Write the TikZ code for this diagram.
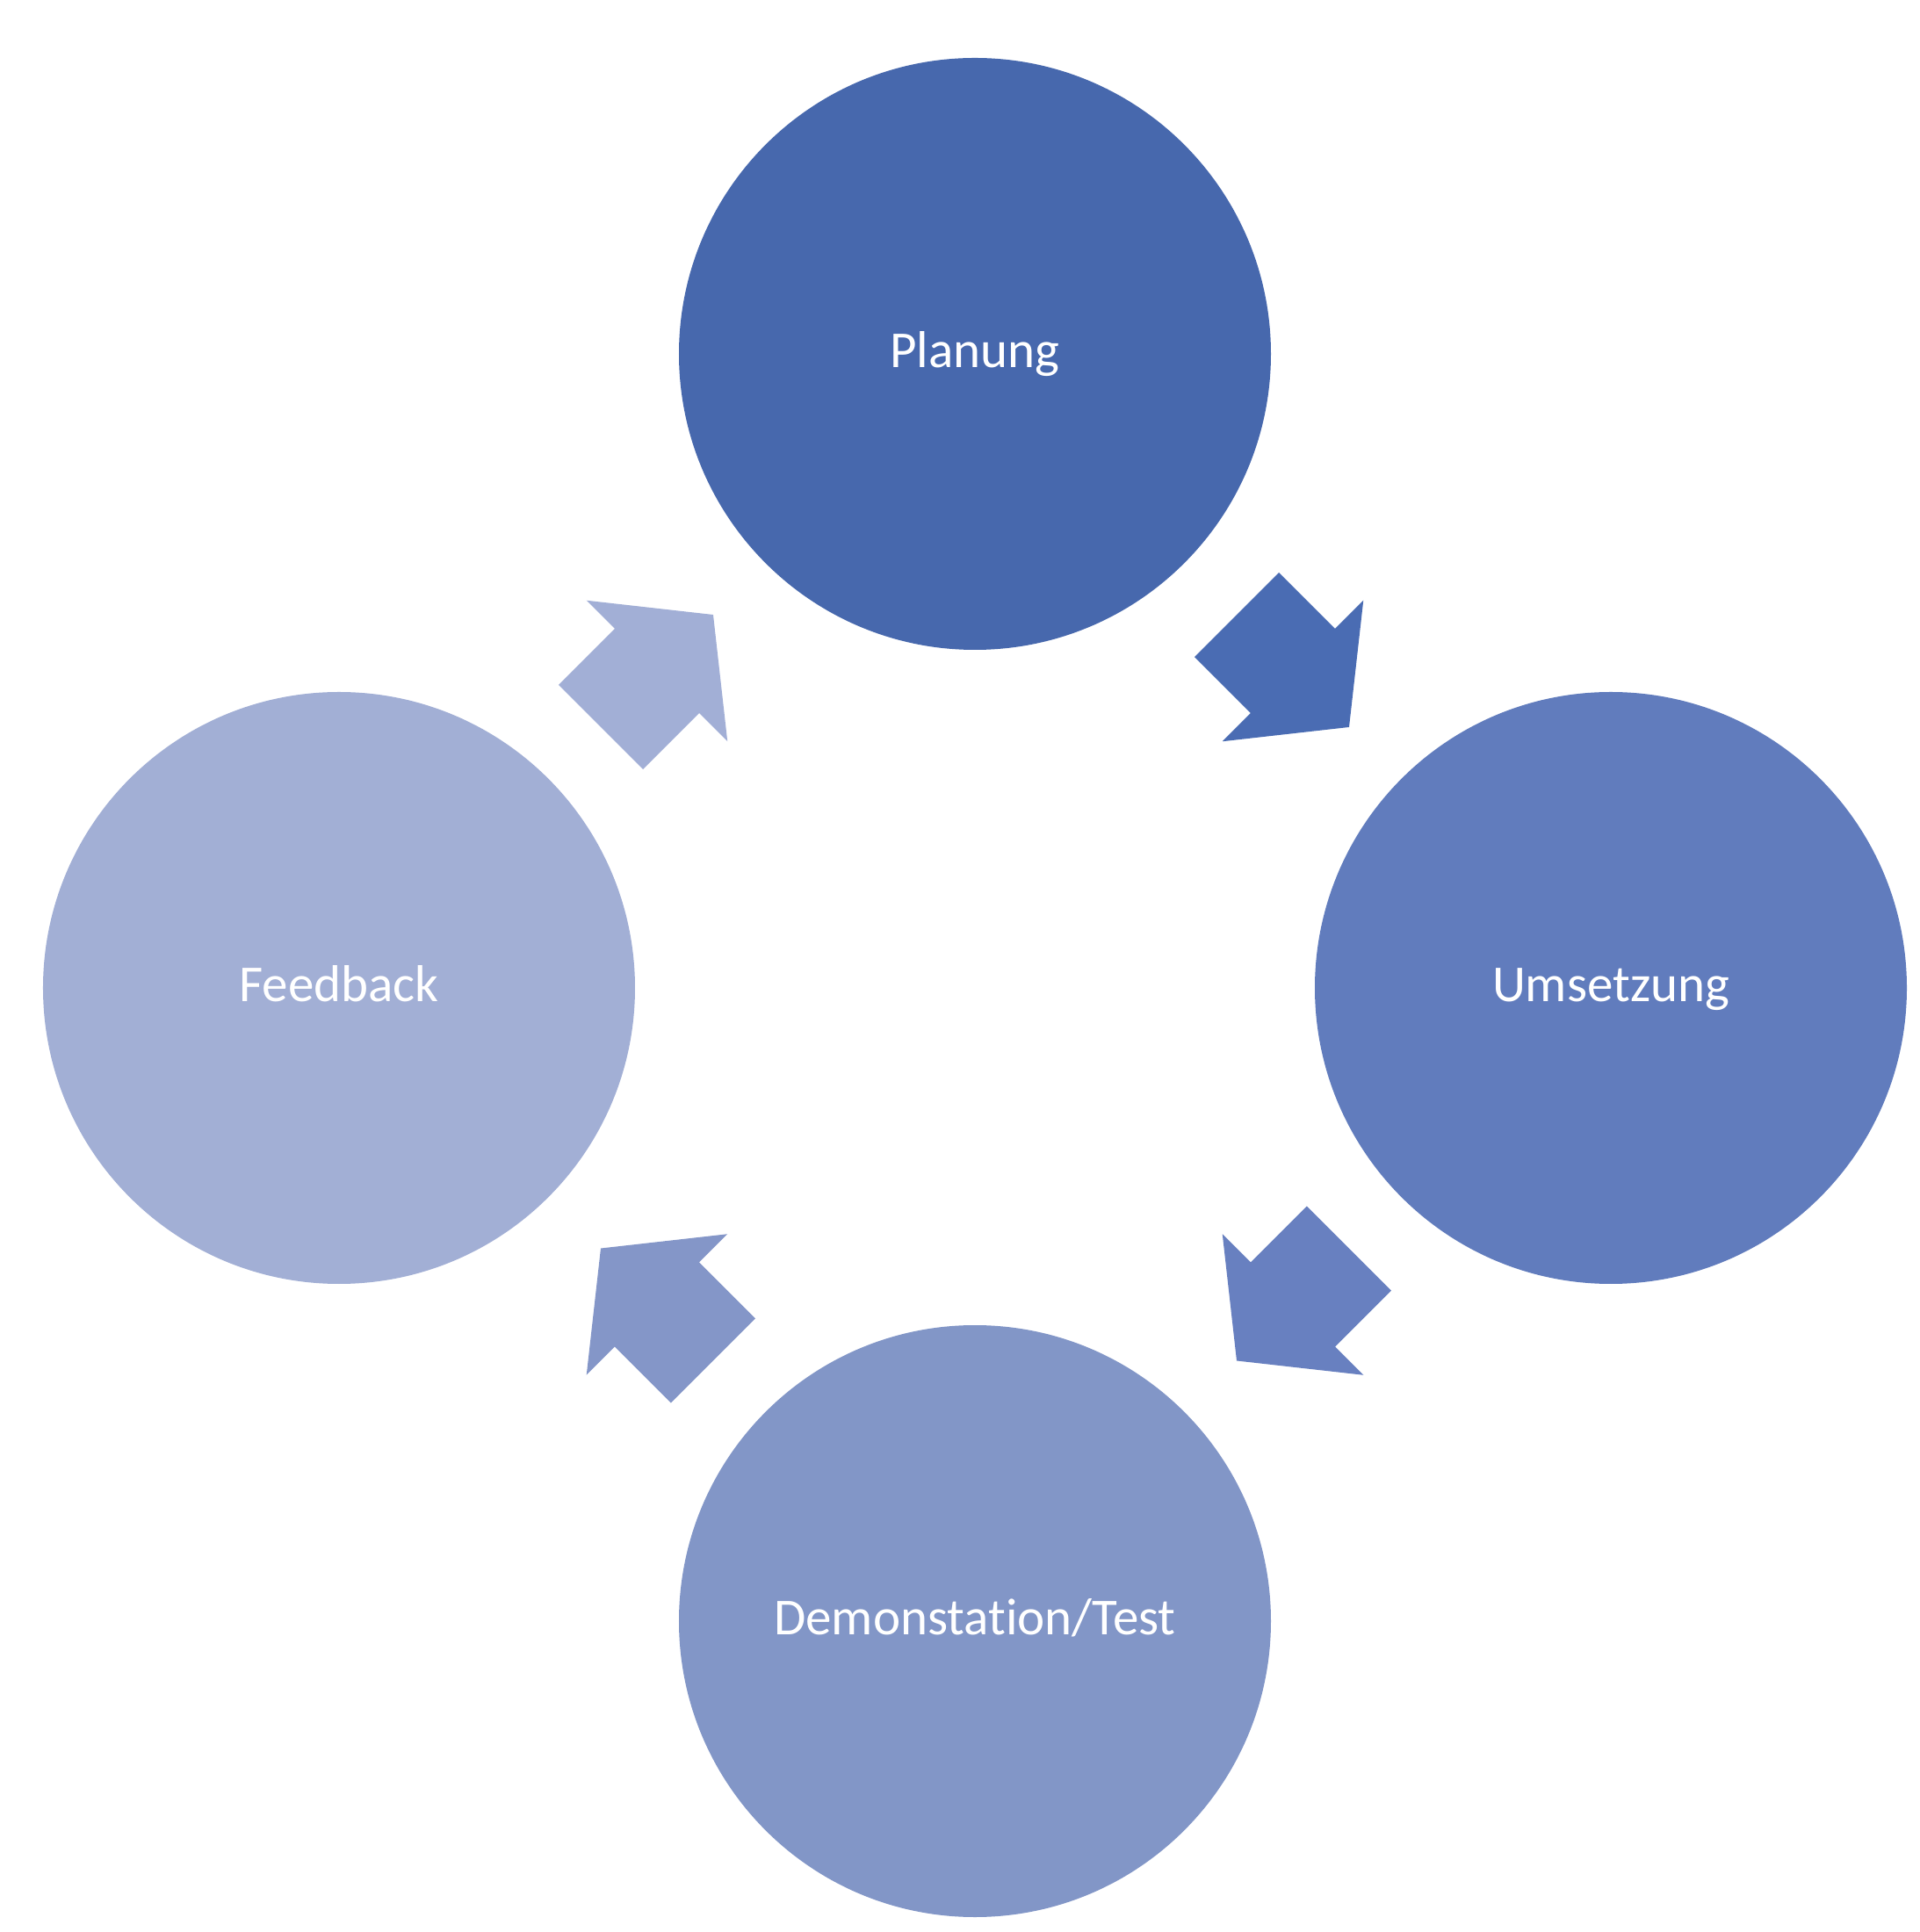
\documentclass[tikz,border=0pt]{standalone}
\usepackage{fontspec}
\setmainfont{Carlito}[Ligatures=NoCommon]
\usepackage{tikz}
\usetikzlibrary{calc}
\definecolor{P}{RGB}{71,104,173}
\definecolor{U}{RGB}{97,124,189}
\definecolor{D}{RGB}{130,150,199}
\definecolor{F}{RGB}{162,175,213}
\definecolor{PU}{RGB}{74,108,179}
\definecolor{UD}{RGB}{104,128,192}
\definecolor{DF}{RGB}{132,150,200}
\definecolor{FP}{RGB}{162,175,214}
\tikzstyle{phase} = [circle, inner sep=0pt,
minimum size=6.74cm,
text=white, font=\fontsize{16.8}{20}\selectfont,
text height=0.45cm, text depth=0.14cm]

\begin{document}
\begin{tikzpicture}
    \useasboundingbox (-11.10,-10.75) rectangle (10.76,11.25);

    \node[phase, fill=P] (plan) at (0,7.22)  {Planung};
    \node[phase, fill=U] (ums)  at (7.24,0)  {Umsetzung};
    \node[phase, fill=D] (demo) at (0,-7.21) {Demonstation/Test};
    \node[phase, fill=F] (feed) at (-7.24,0) {Feedback};

    % block arrows half way between the phases
    \foreach \from/\to/\ang/\col in {plan/ums/-45/PU, ums/demo/-135/UD, demo/feed/135/DF, feed/plan/45/FP}
      \fill[\col, shift={($(\from)!0.5!(\to)$)}, rotate=\ang]
        (-0.905,-0.68) -- (0,-0.68) -- (0,-1.135) -- (0.905,0)
        -- (0,1.135) -- (0,0.68) -- (-0.905,0.68) -- cycle;
  \end{tikzpicture}
\end{document}
